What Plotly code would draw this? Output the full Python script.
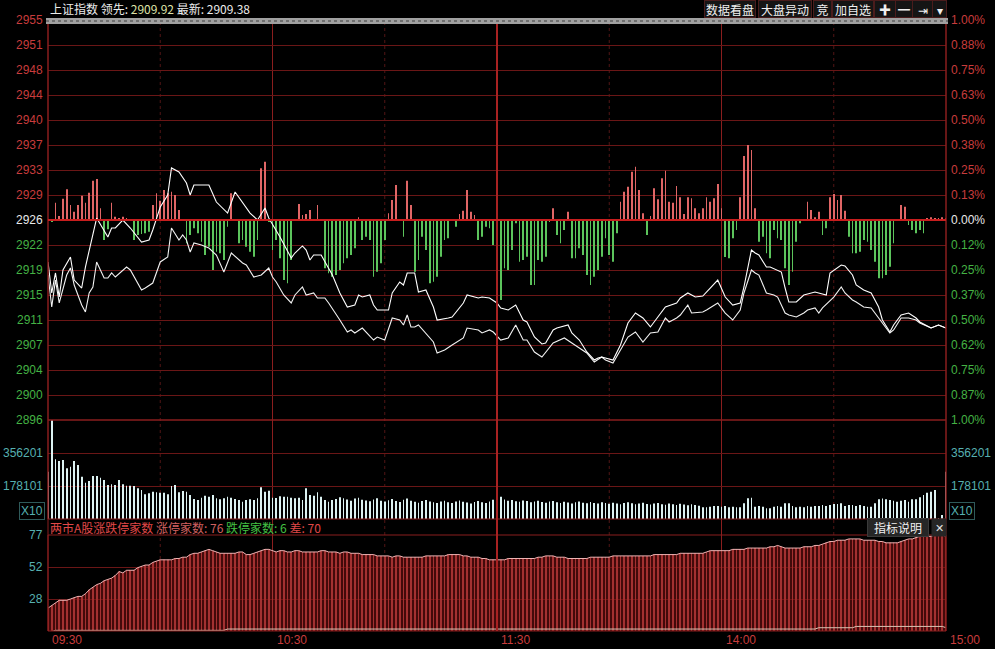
import plotly.graph_objects as go

W, H = 995, 649
PREV_CLOSE = 2926.0

# ---------------- data ----------------
line_a_min = [0,1,2,3,4,6,7,9,10,11,13,16,17,18,20,22,25,27,28,30,32,33,35,37,38,39,43,45,48,50,
              52,54,56,58,59,62,65,66,68,69,70,71,73,74,76,78,80,82,83,84,86,87,88,91,92,94,95,96,98,99,
              101,103,104,107,108,111,112,115,116,118,120,121,123,125,127,128,130,132,133,135,
              136,139,140,142,144,146,147,148,149,151,153,155,157,159,161,163,165,168,169,171,
              173,175,176,179,181,183,185,186,188,189,190,192,193,195,196,197,198,200,202,205,
              206,208,209,212,213,215,216,218,220,222,223,225,226,228,230,232,233,236,238,240]
line_a_price = [2919.86,2915.32,2918.25,2914.73,2918.69,2920.59,2917.22,2916.05,2919.12,2921.61,
                2926.29,2923.51,2924.83,2924.83,2926.00,2924.83,2922.78,2923.07,2924.54,2927.90,
                2929.66,2933.61,2933.02,2931.41,2929.66,2931.12,2931.12,2928.63,2927.02,2930.10,
                2928.63,2927.02,2926.00,2927.76,2926.29,2923.51,2920.44,2921.17,2922.20,2921.61,
                2920.15,2920.88,2920.88,2919.86,2917.95,2915.32,2913.27,2913.56,2915.03,2914.73,
                2915.03,2913.56,2912.83,2912.83,2915.32,2916.93,2916.49,2918.25,2918.25,2915.47,
                2915.76,2913.27,2911.37,2911.66,2911.81,2913.86,2915.03,2914.59,2914.73,2914.59,
                2913.86,2913.13,2912.83,2913.56,2911.37,2911.08,2908.88,2907.86,2908.00,2909.91,
                2910.20,2910.64,2909.47,2908.44,2906.69,2905.52,2905.81,2905.96,2905.81,2905.52,
                2907.71,2910.93,2912.39,2911.66,2910.35,2911.81,2913.27,2913.86,2914.59,2915.32,
                2914.73,2914.88,2915.47,2917.22,2914.73,2913.56,2913.86,2916.20,2921.61,2921.17,
                2920.88,2919.12,2919.12,2918.69,2918.39,2916.05,2914.00,2914.00,2915.03,2915.47,
                2915.32,2915.03,2918.25,2919.42,2919.27,2917.95,2916.49,2915.76,2915.32,2913.27,
                2911.37,2909.61,2910.64,2912.10,2912.39,2911.66,2911.08,2910.20,2910.64,2910.20]

line_b_min = [0,1,2,3,5,6,7,9,10,11,12,13,15,16,17,18,21,22,25,26,28,30,32,33,35,36,37,38,39,41,
              43,45,47,49,52,53,55,57,59,60,61,63,65,66,68,69,71,72,74,75,78,80,81,82,84,85,87,88,90,92,
              94,95,96,97,98,99,101,103,104,106,108,111,112,115,116,118,119,121,123,125,
              127,128,130,132,135,138,140,142,144,146,148,149,151,153,155,157,159,161,163,165,
              166,168,169,171,172,175,176,179,181,183,185,186,188,189,190,192,194,195,197,198,
              200,202,203,205,206,207,210,212,213,215,216,218,220,222,224,225,226,228,230,232,
              233,236,238,240]
line_b_price = [2917.95,2913.27,2917.22,2913.86,2917.95,2918.98,2916.49,2913.56,2912.54,2915.32,
                2916.20,2919.86,2917.51,2917.51,2918.25,2917.66,2919.12,2918.69,2915.76,2916.05,
                2916.78,2919.86,2920.59,2924.83,2923.07,2923.81,2923.07,2921.32,2922.64,2922.34,
                2921.90,2920.88,2918.39,2921.17,2919.71,2919.42,2917.66,2917.95,2918.98,2917.66,
                2916.93,2915.03,2913.86,2915.03,2916.20,2915.03,2915.32,2914.59,2914.59,2913.86,
                2911.37,2909.61,2909.91,2909.47,2910.20,2909.61,2908.44,2908.88,2908.44,2911.66,
                2911.37,2910.64,2912.10,2910.35,2910.35,2910.64,2909.47,2908.15,2906.54,2906.98,
                2907.71,2908.74,2910.20,2909.91,2909.47,2909.91,2909.61,2908.44,2908.74,2910.64,
                2908.44,2908.44,2906.69,2905.96,2908.00,2908.74,2908.00,2907.27,2906.54,2905.22,
                2905.96,2905.52,2905.08,2906.98,2908.88,2909.61,2908.15,2909.47,2909.61,2911.66,
                2911.08,2911.66,2912.10,2913.56,2912.39,2912.54,2912.83,2913.86,2912.39,2911.37,
                2912.83,2915.32,2918.69,2918.25,2917.95,2915.32,2915.03,2914.73,2912.39,2912.10,
                2911.81,2912.39,2912.83,2913.13,2912.39,2913.13,2914.73,2916.20,2915.32,2914.30,
                2914.00,2913.27,2913.13,2911.66,2910.20,2909.47,2909.91,2911.66,2911.66,2911.37,
                2910.93,2910.20,2910.64,2910.20]

# red/green strength bars, one per minute (index points above/below previous close)
strength = [0,-0.24,2.54,0.59,3.12,4.49,2.19,1.22,2.19,3.56,
            2.54,4.0,5.75,6.0,1.71,-2.93,-1.37,2.54,0.49,0.24,
            0.49,0.2,0,-2.93,-2.19,-2.05,-1.95,-1.71,2.19,3.9,
            2.83,4.4,3.9,4.15,3.66,1.46,0,-3.41,-2.19,-1.22,
            -1.95,-3.17,-5.12,-3.9,-7.32,-4.63,-4.88,-5.85,-0.98,3.9,
            0,-3.41,-2.93,-3.9,-4.63,-5.37,-2.93,7.56,8.53,-0.24,
            -4.39,-2.93,-5.61,-8.78,-9.27,-5.85,0,2.34,0.73,0.88,
            1.46,0,2.19,0,-7.07,-7.8,-8.29,-8.05,-7.32,-6.34,
            -5.61,-5.12,-4.15,0.39,-2.93,-2.44,-2.93,-8.29,-7.56,-6.34,
            -2.93,0.98,2.93,5.12,0,-2.44,5.75,2.19,-7.56,-5.85,
            -2.44,-4.39,-9.27,-9.02,-8.29,-5.37,-2.93,-2.68,0,-0.98,
            0.88,1.37,4.39,1.22,0.73,-2.93,-2.44,-0.98,-1.22,-3.66,
            -1.71,-11.7,-7.07,-7.32,-4.39,-0.49,-6.10,-5.85,-5.37,-9.51,
            -9.51,-5.85,-6.10,-5.37,-0.24,1.71,-2.19,-3.41,-1.46,1.22,
            -5.61,-5.61,-4.15,-5.12,-8.05,-9.51,-8.29,-7.32,-5.37,-2.68,
            -5.12,-6.10,-1.95,2.68,4.15,4.88,7.07,7.80,4.39,0.98,
            -2.19,0.59,4.63,3.02,6.10,7.22,2.68,2.54,4.97,3.32,
            0.88,3.32,3.17,1.71,0.98,1.71,3.32,2.68,3.17,5.27,
            1.71,-5.4,-5.61,-2.68,-1.46,3.32,9.36,10.97,10.24,1.71,
            -3.17,-2.44,-4.88,-5.61,-1.46,-2.68,-2.93,-7.07,-9.51,-7.56,
            -3.17,-0.49,0,2.68,1.46,0.39,1.22,-2.19,-1.22,3.32,
            3.80,2.93,3.66,1.37,-2.44,-4.88,-4.88,-4.63,-2.93,-3.17,
            -4.39,-6.10,-8.53,-8.53,-8.05,-6.83,-3.41,0,2.19,1.95,
            -0.73,-1.46,-1.95,-1.46,-1.95,0.2,0.39,0.24,0.15,0.39,
            0.2]

# volume per minute, in thousands
volume_k = [255.3,534.0,322.2,313.0,318.4,273.6,282.3,313.0,291.4,228.3,
            195.9,205.1,232.1,232.1,222.9,210.5,183.5,187.3,183.5,210.5,
            187.3,179.7,179.7,178.1,165.7,156.5,133.3,138.7,147.3,144.1,
            141.9,141.9,133.3,178.1,183.5,144.1,151.1,147.3,129.5,107.9,
            102.5,115.0,125.7,120.4,129.5,111.7,106.3,111.7,120.4,115.0,
            107.9,102.5,93.4,102.5,106.3,102.5,111.7,171.1,147.3,152.7,
            115.0,113.3,122.5,120.4,120.4,115.0,111.7,115.0,102.5,165.7,
            129.5,125.7,144.1,120.4,102.5,93.4,
            102,108,118,112,105,98,110,115,104,100,
            96,105,112,99,94,101,108,97,92,104,
            110,99,93,88,97,102,95,90,86,94,
            99,91,87,95,100,93,89,84,92,97,
            90,86,95,104,190,
            120,105,98,102,96,93,100,97,91,95,
            99,92,88,94,97,90,86,93,89,84,
            91,95,88,85,92,87,83,90,86,82,
            88,84,80,87,91,85,79,83,88,81,
            78,84,86,80,77,83,79,75,82,78,
            74,80,76,72,
            63,63,66,70,70,66,70,63,66,63,
            63,85,112,115,66,70,66,58,58,66,
            70,66,85,85,70,63,66,63,70,66,
            70,70,76,70,76,81,81,85,70,76,
            76,70,76,70,66,66,85,106,110,106,
            103,99,93,99,103,93,106,106,117,130,
            142,147,157,4,22,255]

# limit-up / limit-down counts per minute
limit_up = [21,23,25,27,27,27,28,29,30,30,
            32,35,37,39,40,42,43,44,46,49,
            48,50,50,50,52,53,54,54,56,57,
            58,58,58,58,59,59,60,60,62,63,
            63,64,65,66,65,64,63,63,63,63,
            63,64,64,62,62,63,64,65,66,66,
            65,64,65,65,64,64,65,65,64,64,
            64,64,64,65,65,64,64,64,63,64,
            64,63,63,63,62,62,62,62,61,61,
            61,61,60,61,61,60,60,60,60,60,
            60,61,61,61,61,61,61,62,62,62,
            62,61,61,60,60,60,59,59,58,58,
            58,58,58,59,59,59,59,59,59,59,
            59,60,60,61,61,61,60,60,60,59,
            59,59,59,59,59,60,60,60,60,60,
            60,61,61,61,61,61,61,61,61,61,
            61,61,62,62,62,62,62,62,62,63,
            63,63,63,63,63,63,64,65,65,65,
            65,65,65,66,66,66,66,67,67,67,
            67,67,67,68,68,69,68,67,67,67,
            67,67,68,68,68,69,69,70,71,72,
            72,73,73,73,74,74,74,74,73,73,
            73,73,72,72,71,71,71,71,72,73,
            74,74,75,76,76,76,76,77,77,77,
            76]
limit_down = [3,3,4,4,4,4,4,4,4,4,
              4,4,4,4,4,4,4,4,4,4,
              4,4,4,4,4,4,4,4,4,4,
              4,4,4,4,4,4,4,4,4,4,
              4,4,4,4,4,4,4,4,5,5,
              5,5,5,5,5,5,5,5,5,5,
              5,5,5,5,5,5,5,5,5,5,
              5,5,5,5,5,5,5,5,5,5,
              5,5,5,5,5,5,5,5,5,5,
              5,5,5,5,5,5,5,5,5,5,
              5,5,5,5,5,5,5,5,5,5,
              5,5,5,5,5,5,5,5,5,5,
              5,5,5,5,5,5,5,5,5,5,
              5,5,5,5,5,5,5,5,5,5,
              5,5,5,5,5,5,5,5,5,5,
              5,5,5,5,5,5,5,5,5,5,
              5,5,5,5,5,5,5,5,5,5,
              5,5,5,5,5,5,5,5,5,5,
              5,5,5,5,5,5,5,5,5,5,
              5,5,5,5,5,5,5,5,5,5,
              5,5,5,5,5,5,6,6,6,6,
              6,6,6,6,6,6,7,7,7,7,
              7,7,7,7,7,7,7,7,7,7,
              7,7,7,7,7,7,7,7,7,7,
              6]

price_labels = ["2955","2951","2948","2944","2940","2937","2933","2929","2926",
                "2922","2919","2915","2911","2907","2904","2900","2896"]
pct_labels = ["1.00%","0.88%","0.75%","0.63%","0.50%","0.38%","0.25%","0.13%","0.00%",
              "0.12%","0.25%","0.37%","0.50%","0.62%","0.75%","0.87%","1.00%"]
vol_ticks_k = [178.101, 356.201]
vol_labels = ["178101", "356201"]
lim_ticks = [28, 52.5, 77]
lim_labels = ["28", "52", "77"]
time_pos = [0, 60, 120, 180, 240]
time_labels = ["09:30", "10:30", "11:30", "14:00", "15:00"]

# ---------------- layout helpers ----------------
def fx(p):
    return p / W

def fy(p):
    return 1 - p / H

RED = "#c83c3c"
GREEN = "#44b244"
TEAL = "#56b0b0"
GRID = "#6a1616"
VGRID = "#8a1e1e"
FONT = "Liberation Sans, Noto Sans CJK SC, sans-serif"
CJK = "Noto Sans CJK SC, Liberation Sans, sans-serif"

price_grid = [PREV_CLOSE * (1 + k * 0.00125) for k in range(8, -9, -1)]

fig = go.Figure()

# strength bars
fig.add_trace(go.Bar(
    x=list(range(len(strength))), y=strength, base=PREV_CLOSE,
    marker=dict(color=["#e06666" if v > 0 else "#5cc45c" for v in strength], line_width=0),
    width=0.2, xaxis="x", yaxis="y", hoverinfo="skip"))
fig.add_trace(go.Scatter(x=line_b_min, y=line_b_price, mode="lines",
                         line=dict(color="#f2f2f2", width=1.1), xaxis="x", yaxis="y"))
fig.add_trace(go.Scatter(x=line_a_min, y=line_a_price, mode="lines",
                         line=dict(color="#ffffff", width=1.1), xaxis="x", yaxis="y"))

# volume
fig.add_trace(go.Bar(x=list(range(len(volume_k))), y=volume_k,
                     marker=dict(color="#dcf2f2", line_width=0), width=0.2,
                     xaxis="x2", yaxis="y2"))

# limit up / down
fig.add_trace(go.Scatter(x=list(range(len(limit_up))), y=limit_up, mode="lines",
                         line=dict(width=0), fill="tozeroy",
                         fillcolor="rgba(120,18,18,0.55)", xaxis="x3", yaxis="y3"))
fig.add_trace(go.Bar(x=list(range(len(limit_up))), y=limit_up,
                     marker=dict(color="#d85858", line_width=0), width=0.2,
                     xaxis="x3", yaxis="y3"))
fig.add_trace(go.Scatter(x=list(range(len(limit_up))), y=limit_up, mode="lines",
                         line=dict(color="#eeb4b4", width=1), xaxis="x3", yaxis="y3"))
fig.add_trace(go.Scatter(x=list(range(len(limit_down))), y=limit_down, mode="lines",
                         line=dict(color="#d8c4b4", width=1), xaxis="x3", yaxis="y3"))

xcommon = dict(range=[0, 240], domain=[fx(48), fx(946)], showticklabels=False,
               zeroline=False, showgrid=False, fixedrange=True)

fig.update_layout(
    width=W, height=H, margin=dict(l=0, r=0, t=0, b=0),
    paper_bgcolor="#000000", plot_bgcolor="#000000", showlegend=False,
    barmode="overlay",
    xaxis=dict(**xcommon, anchor="y"),
    xaxis2=dict(**xcommon, anchor="y2", matches="x"),
    xaxis3=dict(**xcommon, anchor="y3", matches="x"),
    yaxis=dict(domain=[fy(420), fy(20)], range=[PREV_CLOSE * 0.99, PREV_CLOSE * 1.01],
               tickmode="array", tickvals=price_grid, showticklabels=False,
               showgrid=True, gridcolor=GRID, zeroline=False, fixedrange=True),
    yaxis2=dict(domain=[fy(519), fy(420)], range=[0, 534.303], tickmode="array",
                tickvals=vol_ticks_k, showticklabels=False, showgrid=True,
                gridcolor=GRID, zeroline=False, fixedrange=True),
    yaxis3=dict(domain=[fy(631), fy(535)], range=[3.5, 77], tickmode="array",
                tickvals=lim_ticks, showticklabels=False, showgrid=True,
                gridcolor=GRID, zeroline=False, fixedrange=True),
)

shapes = []
# half-hour dotted lines and hourly lines
for t in [30, 90, 150, 210]:
    shapes.append(dict(type="line", xref="x", yref="paper", x0=t, x1=t, y0=fy(631),
                       y1=fy(20), layer="below",
                       line=dict(color="#521414", width=1, dash="dot")))
for t in [60, 180]:
    shapes.append(dict(type="line", xref="x", yref="paper", x0=t, x1=t, y0=fy(631),
                       y1=fy(20), layer="below", line=dict(color=VGRID, width=1)))
# panel frames
for (ya, yb) in [(20, 420), (420, 519), (535, 631)]:
    shapes.append(dict(type="rect", xref="paper", yref="paper", x0=fx(48), x1=fx(946),
                       y0=fy(yb), y1=fy(ya), line=dict(color=VGRID, width=1)))
shapes.append(dict(type="line", xref="paper", yref="paper", x0=fx(48), x1=fx(48),
                   y0=fy(631), y1=fy(18), line=dict(color=VGRID, width=1)))
shapes.append(dict(type="line", xref="paper", yref="paper", x0=fx(946), x1=fx(946),
                   y0=fy(631), y1=fy(18), line=dict(color=VGRID, width=1)))
# 11:30 separator
shapes.append(dict(type="line", xref="x", yref="paper", x0=120, x1=120,
                   y0=fy(631), y1=fy(20), line=dict(color="#a82222", width=2)))
# zero line
shapes.append(dict(type="line", xref="x", yref="y", x0=0, x1=240, y0=PREV_CLOSE,
                   y1=PREV_CLOSE, line=dict(color="#c81e1e", width=2)))
# top grey scroll band
shapes.append(dict(type="line", xref="paper", yref="paper", x0=fx(46), x1=fx(948),
                   y0=fy(21), y1=fy(21), line=dict(color="#a0a0a0", width=6)))
shapes.append(dict(type="line", xref="paper", yref="paper", x0=fx(46), x1=fx(948),
                   y0=fy(21), y1=fy(21), line=dict(color="#6e6e6e", width=2, dash="dot")))
fig.update_layout(shapes=shapes)

ann = []
def text(x, y, s, color, size=12, xanchor="left", yanchor="middle", xref="paper",
         yref="paper", family=FONT, **kw):
    ann.append(dict(x=x, y=y, xref=xref, yref=yref, text=s, showarrow=False,
                    xanchor=xanchor, yanchor=yanchor,
                    font=dict(color=color, size=size, family=family), **kw))

for i, (v, lab, pct) in enumerate(zip(price_grid, price_labels, pct_labels)):
    c = RED if i < 8 else ("#e8e8e8" if i == 8 else GREEN)
    text(fx(45), v, lab, c, xanchor="right", yref="y")
    text(fx(949), v, pct, c, xanchor="left", yref="y")

for v, lab in zip(vol_ticks_k, vol_labels):
    text(fx(45), v, lab, TEAL, xanchor="right", yref="y2")
    text(fx(949), v, lab, TEAL, xanchor="left", yref="y2")
text(fx(45), fy(511), "X10", TEAL, xanchor="right", bordercolor="#2f5a5a",
     borderwidth=1, borderpad=1)
text(fx(949), fy(511), "X10", TEAL, xanchor="left", bordercolor="#2f5a5a",
     borderwidth=1, borderpad=1)

for v, lab in zip(lim_ticks, lim_labels):
    text(fx(45), v, lab, TEAL, xanchor="right", yref="y3")

for p, lab in zip(time_pos, time_labels):
    ann.append(dict(x=p, y=fy(640), xref="x3", yref="paper", text=lab, showarrow=False,
                    xanchor="left", yanchor="middle", xshift=2,
                    font=dict(color=RED, size=12, family=FONT)))

# header
text(fx(48), fy(9),
     "上证指数 领先: <span style='color:#dfe3a8'>2909.92</span> 最新: 2909.38",
     "#ececec", size=12, family=CJK)
buttons = [("数据看盘", 705, 755), ("大盘异动", 759, 811), ("竞", 814, 831),
           ("加自选", 833, 873), ("✚", 875, 895), ("━", 896, 912), ("⇥", 913, 932),
           ("▾", 933, 946)]
for lab, a, b in buttons:
    ann.append(dict(x=fx((a + b) / 2), y=fy(9), xref="paper", yref="paper", text=lab,
                    showarrow=False, xanchor="center", yanchor="middle",
                    width=b - a - 2, height=14, bgcolor="#151515",
                    bordercolor="#4a1c1c", borderwidth=1,
                    font=dict(color="#f0f0f0", size=12, family=CJK)))

# lower panel header
text(fx(48), fy(527),
     "<span style='color:#e04848'>两市A股涨跌停家数</span> "
     "<span style='color:#d06060'>涨停家数: 76</span> "
     "<span style='color:#44c044'>跌停家数: 6</span> "
     "<span style='color:#e04848'>差: 70</span>",
     RED, size=12, family=CJK)
ann.append(dict(x=fx(898), y=fy(527), xref="paper", yref="paper", text="指标说明",
                showarrow=False, xanchor="center", yanchor="middle", width=58, height=15,
                bgcolor="#262626", bordercolor="#3a3a3a", borderwidth=1,
                font=dict(color="#f0f0f0", size=12, family=CJK)))
ann.append(dict(x=fx(939), y=fy(527), xref="paper", yref="paper", text="✕",
                showarrow=False, xanchor="center", yanchor="middle", width=12, height=15,
                bgcolor="#262626", font=dict(color="#e0e0e0", size=11, family=FONT)))

fig.update_layout(annotations=ann)
fig.write_html("out.html", config={"displayModeBar": False})

# remove the default page margin so the figure sits at the window origin
with open("out.html", "r", encoding="utf-8") as f:
    html = f.read()
html = html.replace("<head>", "<head><style>html,body{margin:0;padding:0;background:#000;overflow:hidden}</style>", 1)
with open("out.html", "w", encoding="utf-8") as f:
    f.write(html)
